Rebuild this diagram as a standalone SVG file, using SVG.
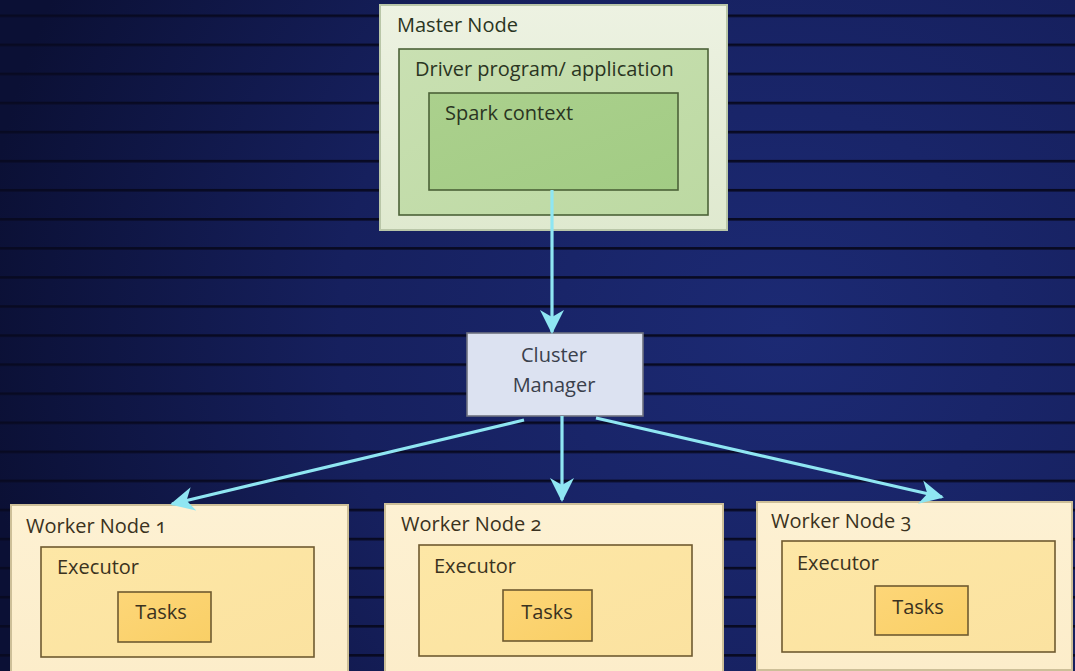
<svg xmlns="http://www.w3.org/2000/svg" width="1075" height="671" viewBox="0 0 1075 671">
<defs>
<radialGradient id="bg" cx="780" cy="330" r="800" gradientUnits="userSpaceOnUse">
<stop offset="0" stop-color="#1c2a74"/>
<stop offset="0.55" stop-color="#16205e"/>
<stop offset="1" stop-color="#0b1035"/>
</radialGradient>
<pattern id="lines" x="0" y="14.5" width="1075" height="29.07" patternUnits="userSpaceOnUse">
<rect x="0" y="0" width="1075" height="2.6" fill="#080a22"/>
</pattern>
<linearGradient id="gOuter" x1="0" y1="0" x2="0" y2="1"><stop offset="0" stop-color="#edf2e2"/><stop offset="1" stop-color="#dfe9cf"/></linearGradient>
<linearGradient id="gDriver" x1="0" y1="0" x2="1" y2="1"><stop offset="0" stop-color="#c9e0b2"/><stop offset="1" stop-color="#bcd9a2"/></linearGradient>
<linearGradient id="gSpark" x1="0" y1="0" x2="1" y2="1"><stop offset="0" stop-color="#abd08d"/><stop offset="1" stop-color="#a2cc84"/></linearGradient>
<linearGradient id="gWorker" x1="0" y1="0" x2="0" y2="1"><stop offset="0" stop-color="#fdf1d3"/><stop offset="1" stop-color="#fcedca"/></linearGradient>
<linearGradient id="gExec" x1="0" y1="0" x2="1" y2="1"><stop offset="0" stop-color="#fde7a6"/><stop offset="1" stop-color="#fbe2a0"/></linearGradient>
<linearGradient id="gTask" x1="0" y1="0" x2="1" y2="1"><stop offset="0" stop-color="#fdd678"/><stop offset="1" stop-color="#f9cf66"/></linearGradient>
<marker id="arr" viewBox="0 0 12 12" refX="11" refY="6" markerWidth="7.5" markerHeight="7.5" orient="auto" markerUnits="strokeWidth">
<path d="M0,0 L12,6 L0,12 L3.5,6 z" fill="#8fe6f2"/>
</marker>
</defs>
<style>
text{font-family:"Open Sans","Liberation Sans",sans-serif;font-size:20px;}
.t-green{fill:#2a3522;}
.t-yel{fill:#3a3220;font-variant-numeric:oldstyle-nums;}
.t-cm{fill:#3a404c;}
.outerG{fill:url(#gOuter);stroke:#b9c6a8;stroke-width:2;}
.driver{fill:url(#gDriver);stroke:#4c6238;stroke-width:1.6;}
.spark{fill:url(#gSpark);stroke:#4c6238;stroke-width:1.6;}
.worker{fill:url(#gWorker);stroke:#cdbf98;stroke-width:2;}
.exec{fill:url(#gExec);stroke:#6f5a30;stroke-width:1.6;}
.task{fill:url(#gTask);stroke:#6f5a30;stroke-width:1.6;}
.cm{fill:#dce2f1;stroke:#6e7280;stroke-width:1.6;}
.conn{stroke:#8fe6f2;stroke-width:3.2;fill:none;marker-end:url(#arr);}
</style>
<rect x="0" y="0" width="1075" height="671" fill="url(#bg)"/>
<rect x="0" y="0" width="1075" height="671" fill="url(#lines)"/>

<g id="master">
<rect class="outerG" x="380" y="5" width="347" height="225"/>
<text class="t-green" x="397" y="32">Master Node</text>
<rect class="driver" x="399" y="49" width="309" height="166"/>
<text class="t-green" x="415" y="76">Driver program/ application</text>
<rect class="spark" x="429" y="93" width="249" height="97"/>
<text class="t-green" x="445" y="120">Spark context</text>
</g>

<g id="cluster-manager">
<rect class="cm" x="467" y="333" width="176" height="83"/>
<text class="t-cm" x="554" y="362" text-anchor="middle">Cluster</text>
<text class="t-cm" x="554" y="392" text-anchor="middle">Manager</text>
</g>

<g id="worker1">
<rect class="worker" x="11" y="505" width="337" height="170"/>
<text class="t-yel" x="26" y="533">Worker Node 1</text>
<rect class="exec" x="41" y="547" width="273" height="110"/>
<text class="t-yel" x="57" y="574">Executor</text>
<rect class="task" x="118" y="592" width="93" height="50"/>
<text class="t-yel" x="161" y="619" text-anchor="middle">Tasks</text>
</g>

<g id="worker2">
<rect class="worker" x="385" y="504" width="338" height="171"/>
<text class="t-yel" x="401" y="531">Worker Node 2</text>
<rect class="exec" x="419" y="545" width="273" height="111"/>
<text class="t-yel" x="434" y="573">Executor</text>
<rect class="task" x="503" y="590" width="89" height="51"/>
<text class="t-yel" x="547" y="619" text-anchor="middle">Tasks</text>
</g>

<g id="worker3">
<rect class="worker" x="757" y="502" width="315" height="168"/>
<text class="t-yel" x="771" y="528">Worker Node 3</text>
<rect class="exec" x="782" y="541" width="273" height="111"/>
<text class="t-yel" x="797" y="570">Executor</text>
<rect class="task" x="875" y="586" width="93" height="49"/>
<text class="t-yel" x="918" y="614" text-anchor="middle">Tasks</text>
</g>

<g id="connectors">
<line class="conn" x1="552" y1="190" x2="552" y2="332"/>
<line class="conn" x1="524" y1="420" x2="172" y2="504"/>
<line class="conn" x1="562" y1="416" x2="562" y2="500"/>
<line class="conn" x1="596" y1="418" x2="942" y2="497"/>
</g>
</svg>
